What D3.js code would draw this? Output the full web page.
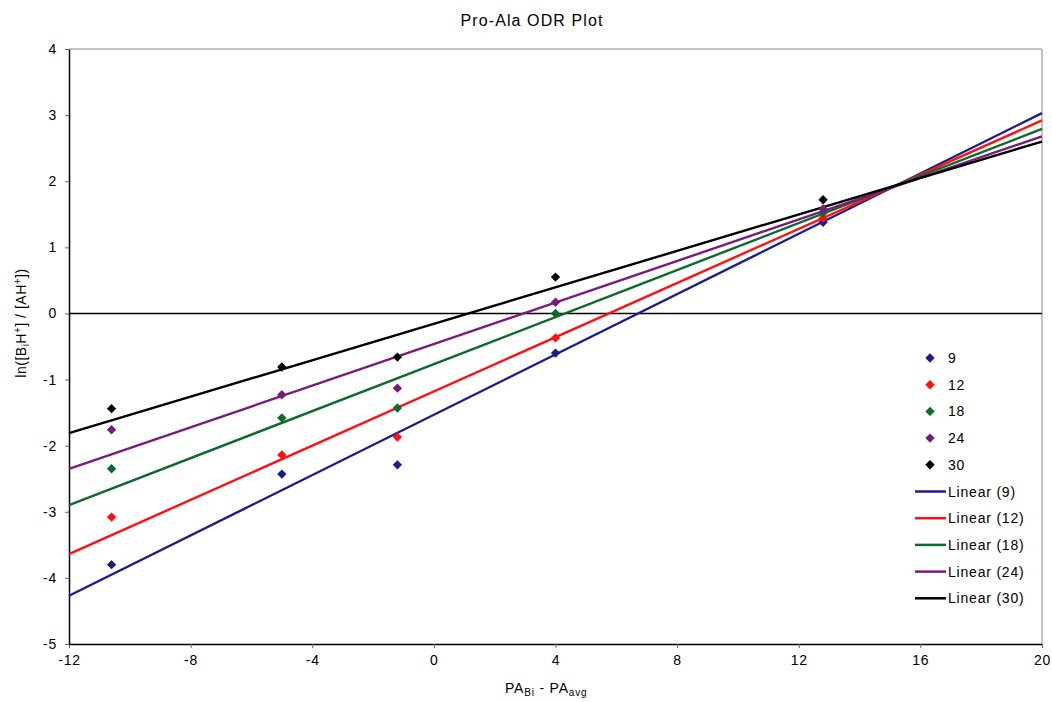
<!DOCTYPE html>
<html><head><meta charset="utf-8">
<script src="https://cdn.jsdelivr.net/npm/d3@7"></script>
<style>body{margin:0;background:#fff;}svg{display:block;font-family:"Liberation Sans",Arial,sans-serif;}</style>
</head><body>
<svg id="c" width="1052" height="702"></svg>
<script>
const xValues = [-10.6, -5.0, -1.2, 4.0, 12.8];
const seriesNames = ["9", "12", "18", "24", "30"];
const series9  = [-3.80, -2.43, -2.29, -0.60, 1.38];
const series12 = [-3.08, -2.14, -1.87, -0.37, 1.44];
const series18 = [-2.35, -1.58, -1.43, 0.00, 1.52];
const series24 = [-1.76, -1.23, -1.13, 0.17, 1.58];
const series30 = [-1.44, -0.81, -0.66, 0.55, 1.72];
// Linear trendline values read at x = -12 and x = 20
const trendAtLeft  = [-4.27, -3.64, -2.90, -2.35, -1.81];
const trendAtRight = [3.03, 2.92, 2.79, 2.68, 2.60];
const trendX = [-12, 20];
const seriesColors = ["#1c1c8e", "#ff1010", "#0b6a2e", "#7a1a7a", "#000000"];
const xTicks = [-12, -8, -4, 0, 4, 8, 12, 16, 20];
const yTicks = [-5, -4, -3, -2, -1, 0, 1, 2, 3, 4];

const allSeries = [series9, series12, series18, series24, series30];
const svg = d3.select("#c");
const m = {l: 69, r: 1042, t: 49, b: 644};
const x = d3.scaleLinear().domain([-12, 20]).range([m.l, m.r]);
const y = d3.scaleLinear().domain([-5, 4]).range([m.b, m.t]);
const FS = 14, LS = 0.8;

// frame (top, right)
svg.append("line").attr("x1", m.l).attr("x2", m.r).attr("y1", m.t).attr("y2", m.t).attr("stroke", "#888").attr("stroke-width", 1);
svg.append("line").attr("x1", m.r).attr("x2", m.r).attr("y1", m.t).attr("y2", m.b).attr("stroke", "#888").attr("stroke-width", 1);

const fmt = d => String(d);
const xAxis = svg.append("g").attr("transform", `translate(0,${m.b})`)
  .call(d3.axisBottom(x).tickValues(xTicks).tickFormat(fmt).tickSize(4).tickSizeOuter(0).tickPadding(7));
const yAxis = svg.append("g").attr("transform", `translate(${m.l},0)`)
  .call(d3.axisLeft(y).tickValues(yTicks).tickFormat(fmt).tickSize(4).tickSizeOuter(0).tickPadding(8));
[xAxis, yAxis].forEach(a => {
  a.select(".domain").attr("stroke", "#000").attr("stroke-width", 1.5);
  a.selectAll("text").attr("font-size", FS).attr("letter-spacing", LS).attr("fill", "#000")
    .attr("font-family", "Liberation Sans, Arial, sans-serif");
  a.selectAll(".tick line").attr("stroke", "#666");
});

// zero line
svg.append("line").attr("x1", m.l).attr("x2", m.r).attr("y1", y(0)).attr("y2", y(0)).attr("stroke", "#000").attr("stroke-width", 1.5);

// trend lines
allSeries.forEach((ys, i) => {
  const pts = trendX.map((v, k) => [v, k === 0 ? trendAtLeft[i] : trendAtRight[i]]);
  svg.append("path").datum(pts)
    .attr("d", d3.line().x(d => x(d[0])).y(d => y(d[1])))
    .attr("fill", "none").attr("stroke", seriesColors[i]).attr("stroke-width", 2.4);
});

// points
const sym = d3.symbol().type(d3.symbolDiamond2).size(56);
allSeries.forEach((ys, i) => {
  svg.append("g").selectAll("path").data(xValues.map((v, j) => [v, ys[j]])).join("path")
    .attr("d", sym).attr("transform", d => `translate(${x(d[0])},${y(d[1])})`)
    .attr("fill", seriesColors[i]);
});

// title
svg.append("text").attr("x", 532).attr("y", 26).attr("text-anchor", "middle")
  .attr("font-size", 16).attr("letter-spacing", 1.1).text("Pro-Ala ODR Plot");

// x label
const xl = svg.append("text").attr("x", 505).attr("y", 693).attr("font-size", FS).attr("letter-spacing", LS);
xl.append("tspan").text("PA");
xl.append("tspan").attr("font-size", 10).attr("dy", 3).text("Bi");
xl.append("tspan").attr("dy", -3).text(" - PA");
xl.append("tspan").attr("font-size", 10).attr("dy", 3).text("avg");

// y label
const yl = svg.append("text").attr("transform", "translate(26,323) rotate(-90)").attr("text-anchor", "middle")
  .attr("font-size", FS).attr("letter-spacing", 0.5);
yl.append("tspan").text("ln([B");
yl.append("tspan").attr("font-size", 10).attr("dy", 3).text("i");
yl.append("tspan").attr("dy", -3).text("H");
yl.append("tspan").attr("font-size", 10).attr("dy", -5).text("+");
yl.append("tspan").attr("dy", 5).text("] / [AH");
yl.append("tspan").attr("font-size", 10).attr("dy", -5).text("+");
yl.append("tspan").attr("dy", 5).text("])");

// legend
const lg = svg.append("g");
const rowH = 26.7, ly0 = 358;
seriesNames.forEach((n, i) => {
  const yy = ly0 + i * rowH;
  lg.append("path").attr("d", sym).attr("transform", `translate(930,${yy})`).attr("fill", seriesColors[i]);
  lg.append("text").attr("x", 948).attr("y", yy + 5).attr("font-size", FS).attr("letter-spacing", LS).text(n);
});
seriesNames.forEach((n, i) => {
  const yy = ly0 + (i + 5) * rowH;
  lg.append("line").attr("x1", 915).attr("x2", 946).attr("y1", yy).attr("y2", yy)
    .attr("stroke", seriesColors[i]).attr("stroke-width", 2.5);
  lg.append("text").attr("x", 948).attr("y", yy + 5).attr("font-size", FS).attr("letter-spacing", LS).text(`Linear (${n})`);
});
</script>
</body></html>
